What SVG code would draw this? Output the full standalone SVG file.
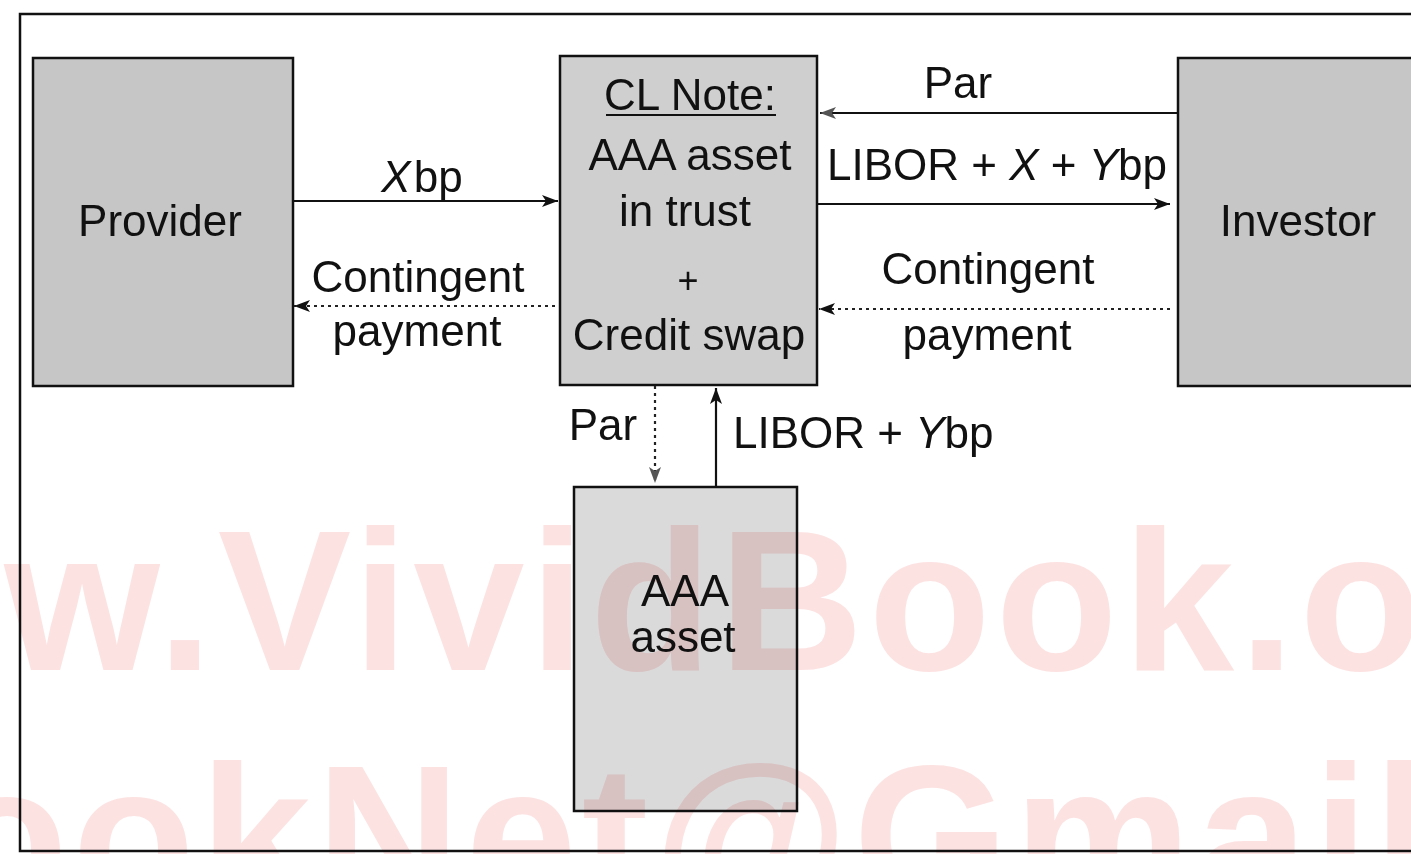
<svg xmlns="http://www.w3.org/2000/svg" width="1411" height="854" viewBox="0 0 1411 854">
<defs>
<style>
.box{stroke:#111;stroke-width:2.5}
.lbl{font-family:"Liberation Sans",Arial,sans-serif;font-size:44px;fill:#111}
.mid{text-anchor:middle}
.wm{font-family:"Liberation Sans",Arial,sans-serif;font-weight:bold;font-size:200px;letter-spacing:5px;fill:#fde2e2;mix-blend-mode:multiply}
.solid{stroke:#111;stroke-width:2.2;fill:none}
.dot{stroke:#222;stroke-width:2.2;fill:none;stroke-dasharray:3 4}
</style>
<marker id="ah" markerUnits="userSpaceOnUse" markerWidth="17" markerHeight="13" refX="16" refY="6.5" orient="auto">
<path d="M0,0.5 L16,6.5 L0,12.5 L4,6.5 z" fill="#111"/>
</marker>
<marker id="ahg" markerUnits="userSpaceOnUse" markerWidth="17" markerHeight="13" refX="16" refY="6.5" orient="auto">
<path d="M0,0.5 L16,6.5 L0,12.5 L4,6.5 z" fill="#555"/>
</marker>
</defs>
<rect width="1411" height="854" fill="#fff"/>
<g id="frame">
<path d="M1411,14 L20,14 L20,851 L1411,851" fill="none" stroke="#111" stroke-width="2.5"/>
</g>
<g id="provider">
<rect class="box" x="33" y="58" width="260" height="328" fill="#c6c6c6"/>
<text class="lbl mid" x="160" y="236">Provider</text>
</g>
<g id="clnote">
<rect class="box" x="560" y="56" width="257" height="329" fill="#cfcfcf"/>
<text class="lbl mid" x="690" y="110">CL Note:</text>
<line x1="606" y1="115" x2="776" y2="115" stroke="#111" stroke-width="2"/>
<text class="lbl mid" x="690" y="170">AAA asset</text>
<text class="lbl mid" x="685" y="226">in trust</text>
<text class="lbl mid" x="688" y="293" style="font-size:36px">+</text>
<text class="lbl mid" x="689" y="350">Credit swap</text>
</g>
<g id="investor">
<rect class="box" x="1178" y="58" width="240" height="328" fill="#c6c6c6"/>
<text class="lbl mid" x="1298" y="236">Investor</text>
</g>
<g id="aaa">
<rect class="box" x="574" y="487" width="223" height="324" fill="#dadada"/>
<text class="lbl mid" x="685" y="606">AAA</text>
<text class="lbl mid" x="683" y="652">asset</text>
</g>
<g id="connectors">
<line class="solid" x1="293" y1="201" x2="558" y2="201" marker-end="url(#ah)"/>
<line class="dot" x1="555" y1="306" x2="294" y2="306" marker-end="url(#ah)"/>
<line class="solid" x1="1178" y1="113" x2="820" y2="113" marker-end="url(#ahg)"/>
<line class="solid" x1="817" y1="204" x2="1170" y2="204" marker-end="url(#ah)"/>
<line class="dot" x1="1170" y1="309" x2="819" y2="309" marker-end="url(#ah)"/>
<line class="dot" x1="655" y1="386" x2="655" y2="483" marker-end="url(#ahg)"/>
<line class="solid" x1="716" y1="487" x2="716" y2="388" marker-end="url(#ah)"/>
</g>
<g id="labels">
<text class="lbl mid" x="422" y="192"><tspan font-style="italic">X</tspan><tspan dx="3">bp</tspan></text>
<text class="lbl mid" x="418" y="292">Contingent</text>
<text class="lbl mid" x="417" y="346">payment</text>
<text class="lbl mid" x="958" y="98">Par</text>
<text class="lbl mid" x="997" y="180">LIBOR + <tspan font-style="italic">X</tspan> + <tspan font-style="italic">Y</tspan>bp</text>
<text class="lbl mid" x="988" y="284">Contingent</text>
<text class="lbl mid" x="987" y="350">payment</text>
<text class="lbl mid" x="603" y="440">Par</text>
<text class="lbl" x="733" y="448">LIBOR + <tspan font-style="italic">Y</tspan>bp</text>
</g>
<g id="watermark">
<text class="wm" x="-317" y="670">www.Vivid</text>
<text class="wm" x="719" y="670">Book.org</text>
<text class="wm" x="-204" y="905">BookNet@Gmail.com</text>
</g>
</svg>
